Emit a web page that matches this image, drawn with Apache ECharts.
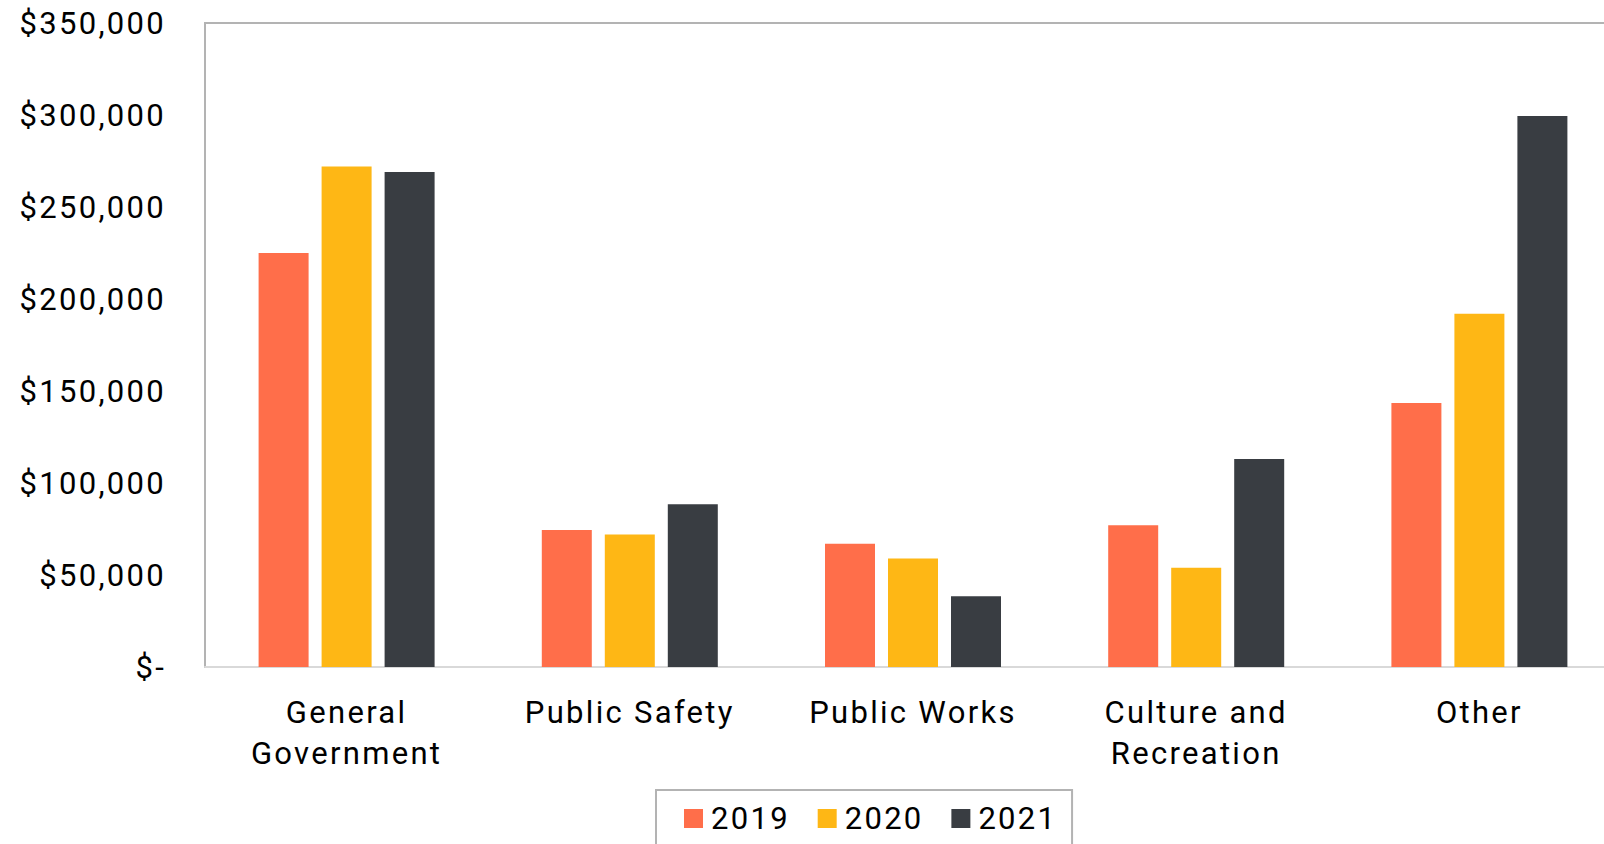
<!DOCTYPE html>
<html>
<head>
<meta charset="utf-8">
<script src="https://cdn.jsdelivr.net/npm/echarts@6/dist/echarts.min.js"></script>
<style>html,body{margin:0;padding:0;background:#fff;}#c{width:1604px;height:844px;}#c text{letter-spacing:2.3px;}</style>
</head>
<body>
<div id="c"></div>
<script>
const categories = ['General\nGovernment', 'Public Safety', 'Public Works', 'Culture and\nRecreation', 'Other'];
const seriesNames = ['2019', '2020', '2021'];
const values2019 = [225000, 74500, 67000, 77000, 143500];
const values2020 = [272000, 72000, 59000, 54000, 192000];
const values2021 = [269000, 88500, 38500, 113000, 299500];
const colors = ['#FF6E4A', '#FEB715', '#393D42'];

const chart = echarts.init(document.getElementById('c'), null, { renderer: 'svg' });
const font = 'Roboto';
function fmt(v) {
  if (v === 0) return '$-';
  return '$' + v.toLocaleString('en-US');
}
const data = [values2019, values2020, values2021];
chart.setOption({
  animation: false,
  grid: { left: 205, top: 23, right: -17, bottom: 177, show: true, borderColor: '#b3b3b3', borderWidth: 2, outerBoundsMode: 'none', containLabel: false },
  legend: {
    data: seriesNames,
    left: 656, top: 790,
    padding: [13, 24, 14, 28],
    itemWidth: 19, itemHeight: 19, itemGap: 37,
    icon: 'rect',
    borderColor: '#b3b3b3', borderWidth: 2,
    textStyle: { fontFamily: font, fontSize: 31, color: '#000', padding: [0, 0, 0, 3] }
  },
  xAxis: {
    type: 'category',
    data: categories,
    axisLine: { lineStyle: { color: '#d9d9d9', width: 2 } },
    axisTick: { show: false },
    axisLabel: { fontFamily: font, fontSize: 31, color: '#000', lineHeight: 41, margin: 25 }
  },
  yAxis: {
    type: 'value', min: 0, max: 350000, interval: 50000,
    splitLine: { show: false },
    axisLine: { show: false },
    axisTick: { show: false },
    axisLabel: { fontFamily: font, fontSize: 31, color: '#000', margin: 39, padding: [4, 0, 0, 0], formatter: fmt }
  },
  series: seriesNames.map((n, i) => ({
    name: n, type: 'bar', data: data[i], barWidth: 50, barGap: '26%',
    itemStyle: { color: colors[i] }
  }))
});
</script>
</body>
</html>
